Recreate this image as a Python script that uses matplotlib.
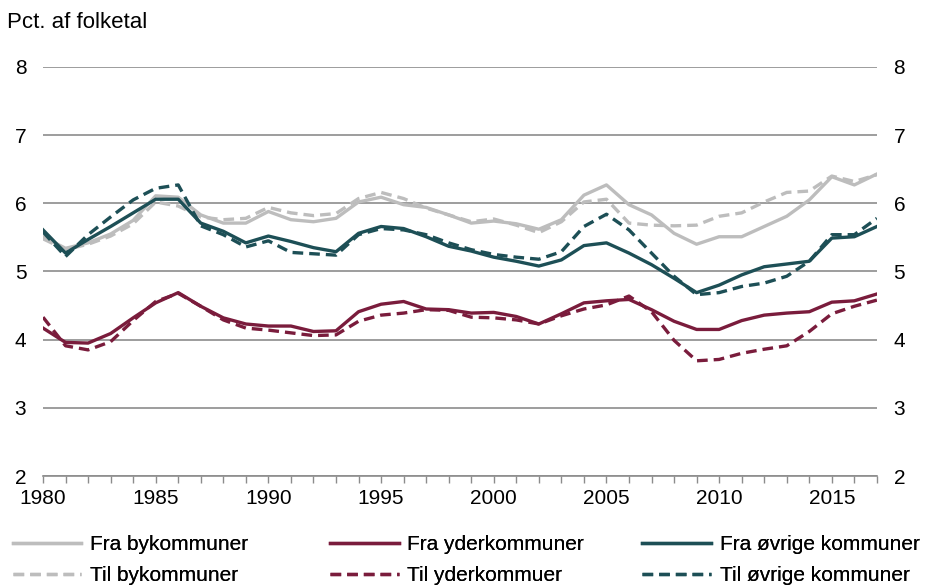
import matplotlib
matplotlib.use('Agg')
from matplotlib import pyplot as plt
import numpy as np

plt.rcParams['font.family'] = ['Liberation Sans', 'DejaVu Sans']

years = np.arange(1980, 2018)

fra_by = [5.51, 5.34, 5.42, 5.55, 5.75, 6.11, 6.09, 5.83, 5.71, 5.71,
          5.88, 5.76, 5.73, 5.78, 6.02, 6.09, 5.98, 5.94, 5.83, 5.71,
          5.74, 5.70, 5.62, 5.76, 6.12, 6.27, 5.98, 5.83, 5.56, 5.40,
          5.51, 5.51, 5.66, 5.81, 6.05, 6.39, 6.27, 6.43]
til_by = [5.48, 5.32, 5.40, 5.52, 5.70, 6.02, 5.96, 5.80, 5.76, 5.78,
          5.94, 5.86, 5.82, 5.85, 6.07, 6.16, 6.07, 5.93, 5.83, 5.73,
          5.77, 5.68, 5.57, 5.73, 6.02, 6.06, 5.71, 5.68, 5.67, 5.68,
          5.81, 5.86, 6.02, 6.16, 6.18, 6.40, 6.32, 6.42]
fra_yder = [4.17, 3.96, 3.95, 4.09, 4.32, 4.54, 4.69, 4.49, 4.32, 4.23,
            4.20, 4.20, 4.12, 4.13, 4.41, 4.52, 4.56, 4.45, 4.44, 4.39,
            4.40, 4.34, 4.23, 4.38, 4.54, 4.57, 4.59, 4.44, 4.27, 4.15,
            4.15, 4.28, 4.36, 4.39, 4.41, 4.55, 4.57, 4.67]
til_yder = [4.33, 3.91, 3.85, 3.97, 4.28, 4.56, 4.68, 4.49, 4.29, 4.17,
            4.14, 4.10, 4.06, 4.07, 4.27, 4.36, 4.39, 4.44, 4.43, 4.33,
            4.32, 4.29, 4.23, 4.35, 4.45, 4.51, 4.64, 4.41, 3.99, 3.69,
            3.71, 3.80, 3.86, 3.91, 4.12, 4.38, 4.49, 4.58]
fra_ovrige = [5.61, 5.27, 5.47, 5.66, 5.86, 6.06, 6.06, 5.71, 5.59, 5.42,
              5.52, 5.44, 5.35, 5.29, 5.56, 5.66, 5.63, 5.51, 5.37, 5.30,
              5.21, 5.15, 5.08, 5.17, 5.38, 5.42, 5.27, 5.10, 4.90, 4.69,
              4.80, 4.95, 5.07, 5.11, 5.15, 5.49, 5.51, 5.66]
til_ovrige = [5.58, 5.22, 5.54, 5.80, 6.05, 6.22, 6.27, 5.67, 5.54, 5.36,
              5.45, 5.28, 5.26, 5.24, 5.54, 5.63, 5.61, 5.54, 5.42, 5.32,
              5.25, 5.21, 5.18, 5.29, 5.66, 5.84, 5.61, 5.27, 4.93, 4.66,
              4.69, 4.78, 4.83, 4.93, 5.15, 5.54, 5.54, 5.78]

grey = '#BDBDBD'
red = '#7A1C3C'
teal = '#1D4F56'

fig = plt.figure(figsize=(9.25, 5.85), dpi=100)
ax = fig.add_axes([0.0465, 0.1863, 0.9015, 0.6992])

lw = 2.4
dash = (3.2, 1.8)
l1, = ax.plot(years, fra_by, color=grey, lw=lw, label='Fra bykommuner')
l2, = ax.plot(years, til_by, color=grey, lw=lw, ls=(0, dash), label='Til bykommuner')
l3, = ax.plot(years, fra_yder, color=red, lw=lw, label='Fra yderkommuner')
l4, = ax.plot(years, til_yder, color=red, lw=lw, ls=(0, dash), label='Til yderkommuer')
l5, = ax.plot(years, fra_ovrige, color=teal, lw=lw, label='Fra øvrige kommuner')
l6, = ax.plot(years, til_ovrige, color=teal, lw=lw, ls=(0, dash), label='Til øvrige kommuner')

ax.set_xlim(1980, 2017)
ax.set_ylim(2, 8)
ax.set_yticks(range(2, 9))
ax.grid(axis='y', color='#8C8C8C', lw=1.2)
ax.set_axisbelow(True)
for s in ['top', 'left', 'right']:
    ax.spines[s].set_visible(False)
ax.spines['bottom'].set_color('#8C8C8C')
ax.spines['bottom'].set_linewidth(1.2)

ax.set_xticks(range(1980, 2018, 5))
ax.set_xticks(range(1980, 2018), minor=True)
ax.tick_params(axis='x', which='both', direction='out', length=5, width=1,
               color='#8C8C8C', labelsize=15, pad=4)
ax.tick_params(axis='y', length=0, labelsize=15, pad=12,
               labelleft=True, labelright=True)

fig.text(0.008, 0.962, 'Pct. af folketal', fontsize=16, ha='left', va='center')

# tre legend-kolonner med fast placering (som i Excel)
for x0, hs in [(0.0, [l1, l2]), (0.343, [l3, l4]), (0.681, [l5, l6])]:
    leg = fig.legend(handles=hs, loc='lower left', bbox_to_anchor=(x0, -0.022),
                     frameon=False, fontsize=15, handlelength=3.3,
                     handletextpad=0.4, labelspacing=0.6, borderaxespad=0.2)
    fig.add_artist(leg)

fig.savefig('out.png', dpi=100)
